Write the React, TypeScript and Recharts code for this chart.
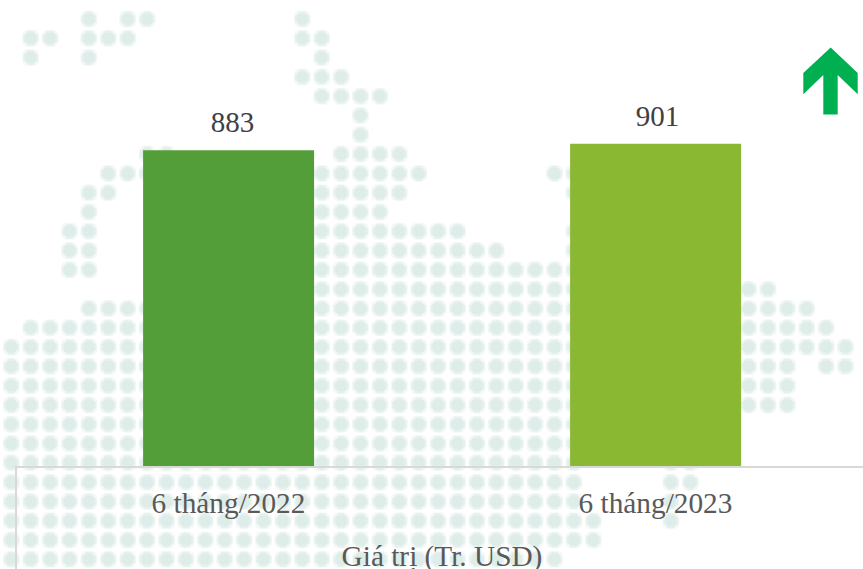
import React from 'react';
import { BarChart, Bar, Cell, XAxis, YAxis, LabelList, ScatterChart, Scatter } from 'recharts';

const periods = ['6 tháng/2022', '6 tháng/2023'];
const values = [883, 901];
const barColors = ['#549e39', '#8ab833'];
const axisTitle = 'Giá trị (Tr. USD)';
const labelNudges = [4, 2];

// Decorative dot map: for each grid row, inclusive runs of grid columns.
const mapRuns: number[][][] = [
  [[3, 3], [5, 6], [14, 14]],
  [[0, 1], [3, 5], [14, 15]],
  [[0, 0], [3, 3], [15, 15]],
  [[14, 16]],
  [[15, 18]],
  [[17, 17]],
  [[17, 17]],
  [[6, 7], [16, 19]],
  [[4, 6], [15, 20], [27, 28]],
  [[3, 4], [15, 19], [28, 28]],
  [[3, 3], [15, 18]],
  [[2, 3], [15, 22], [28, 28]],
  [[2, 3], [15, 24], [28, 28]],
  [[2, 3], [15, 28]],
  [[15, 28], [37, 38]],
  [[3, 6], [15, 28], [37, 40]],
  [[0, 6], [15, 28], [37, 41]],
  [[-1, 6], [15, 28], [37, 42]],
  [[-1, 6], [15, 28], [37, 39], [41, 42]],
  [[-1, 6], [15, 28], [37, 39]],
  [[-1, 6], [15, 28], [37, 39]],
  [[-1, 28]],
  [[-1, 28]],
  [[-1, 28], [33, 34]],
  [[-1, 28], [33, 34]],
  [[-1, 28], [33, 33]],
  [[-1, 29], [33, 33]],
  [[-1, 29]],
  [[-1, 27]],
];

const dots = mapRuns.flatMap((runs, row) =>
  runs.flatMap(([from, to]) => {
    const cells: { col: number; row: number }[] = [];
    for (let col = from; col <= to; col++) cells.push({ col, row });
    return cells;
  })
);

const chartData = periods.map((period, i) => ({ period, value: values[i] }));

const serif = "'Liberation Serif', serif";

const Dot = (props: any) => (
  <g>
    <rect x={props.cx - 8.5} y={props.cy - 8.5} width={17} height={17} rx={6} fill="#f4f9f7" />
    <rect x={props.cx - 7.5} y={props.cy - 4} width={15} height={8} rx={2} fill="#e6f1ee" />
    <rect x={props.cx - 4} y={props.cy - 7.5} width={8} height={15} rx={2} fill="#e6f1ee" />
    <rect x={props.cx - 5.5} y={props.cy - 5.5} width={11} height={11} rx={3} fill="#dfedea" />
  </g>
);

const ValueLabel = (props: any) => (
  <text
    x={props.x + props.width / 2 + labelNudges[props.index]}
    y={props.y - 18}
    textAnchor="middle"
    fontFamily={serif}
    fontSize={29}
    fill="#404040"
  >
    {props.value}
  </text>
);

export default function App() {
  return (
    <div style={{ position: 'absolute', left: 0, top: 0, width: 863, height: 569, overflow: 'hidden', background: '#fff' }}>
      <div style={{ position: 'absolute', left: 0, top: 0 }}>
        <ScatterChart width={863} height={569} margin={{ top: 0, right: 0, bottom: 0, left: 0 }}>
          <XAxis type="number" dataKey="col" domain={[-1.582, 42.9]} hide allowDataOverflow />
          <YAxis type="number" dataKey="row" domain={[-0.984, 28.5]} reversed hide allowDataOverflow />
          <Scatter data={dots} shape={Dot} isAnimationActive={false} />
        </ScatterChart>
      </div>
      <div style={{ position: 'absolute', left: 0, top: 0 }}>
        <BarChart
          width={880}
          height={569}
          data={chartData}
          barCategoryGap="30%"
          margin={{ top: 108.3, right: 11, bottom: 0, left: 15 }}
        >
          <XAxis
            dataKey="period"
            height={102}
            axisLine={{ stroke: '#d9d9d9', strokeWidth: 2 }}
            tickLine={false}
            tickMargin={19}
            tick={{ fontFamily: serif, fontSize: 29.3, fill: '#595959' }}
            label={{ value: axisTitle, position: 'insideBottom', offset: 3, fontFamily: serif, fontSize: 29.3, fill: '#595959' }}
          />
          <YAxis domain={[0, 1000]} hide />
          <Bar dataKey="value" isAnimationActive={false}>
            {chartData.map((d, i) => (
              <Cell key={d.period} fill={barColors[i]} />
            ))}
            <LabelList dataKey="value" content={ValueLabel} />
          </Bar>
        </BarChart>
      </div>
      <svg width={863} height={569} style={{ position: 'absolute', left: 0, top: 0 }}>
        <line x1={16} y1={466} x2={16} y2={569} stroke="#d9d9d9" strokeWidth={2} />
        <polygon
          points="830.7,47.5 857.7,73 857.7,94.3 837.7,75 837.7,114.5 823.3,114.5 823.3,75 803.3,94.3 803.3,73"
          fill="#00b050"
        />
      </svg>
    </div>
  );
}
